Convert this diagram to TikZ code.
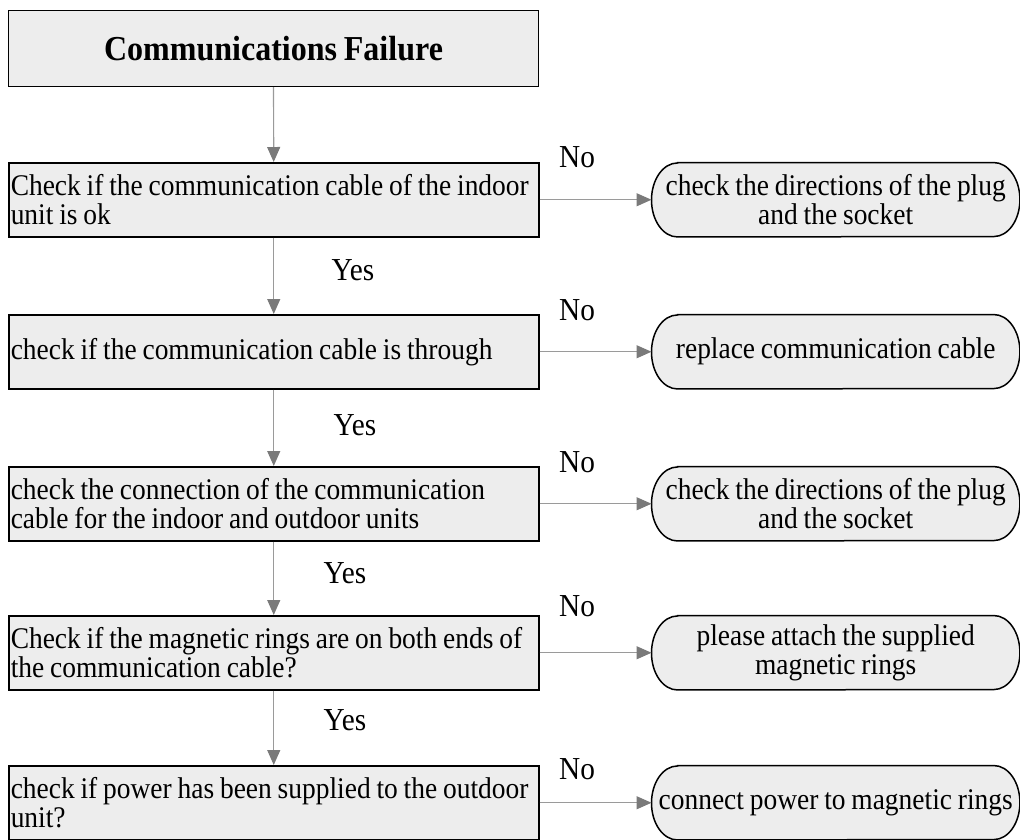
\documentclass[tikz,border=0pt]{standalone}
\usepackage{fontspec}
\setmainfont{Liberation Serif}[FakeStretch=0.915, WordSpace=0.85]
\usetikzlibrary{arrows.meta, backgrounds}

\definecolor{boxgray}{HTML}{EDEDED}
\definecolor{flowgray}{HTML}{9A9A9A}
\definecolor{tipgray}{HTML}{7A7A7A}

\tikzset{
    titlebox/.style={draw, line width=1pt, fill=boxgray, minimum width=530pt, minimum height=76pt, font=\fontsize{35}{38}\selectfont\bfseries},
    chkbox/.style={draw, line width=1.5pt, fill=boxgray, anchor=north west, text width=526pt, inner xsep=2pt, minimum height=74pt, align=flush left, font=\fontsize{30}{29}\selectfont},
    fixbox/.style={anchor=west, minimum width=368pt, minimum height=74pt, align=center, font=\fontsize{30}{29}\selectfont},
    fixline/.style={line width=1.5pt, fill=boxgray},
    flow/.style={draw=flowgray, line width=1.2pt, -{Triangle[length=15pt, width=13pt, color=tipgray, fill=tipgray]}},
    lbl/.style={font=\fontsize{32}{34}\selectfont}
}

\begin{document}
\begin{tikzpicture}[x=1pt, y=-1pt]
    % Fix the page to the picture size
    \useasboundingbox (0,0) rectangle (1020,839);
    \clip (0,0) rectangle (1020,839);

    % Draw the title
    \node[titlebox, anchor=north west] (title) at (8,10) {Communications Failure};

    % Draw the checks
    \node[chkbox] (chk1) at (8,162) {Check if the communication cable of the indoor\\unit is ok};
    \node[chkbox] (chk2) at (8,314) {check if the communication cable is through};
    \node[chkbox] (chk3) at (8,466) {check the connection of the communication\\cable for the indoor and outdoor units};
    \node[chkbox] (chk4) at (8,615) {Check if the magnetic rings are on both ends of\\the communication cable?};
    \node[chkbox] (chk5) at (8,765) {check if power has been supplied to the outdoor\\unit?};

    % Draw the fixes
    \node[fixbox] (fix1) at ([xshift=112pt]chk1.east) {check the directions of the plug\\and the socket};
    \node[fixbox] (fix2) at ([xshift=112pt]chk2.east) {replace communication cable};
    \node[fixbox] (fix3) at ([xshift=112pt]chk3.east) {check the directions of the plug\\and the socket};
    \node[fixbox] (fix4) at ([xshift=112pt]chk4.east) {please attach the supplied\\magnetic rings};
    \node[fixbox] (fix5) at ([xshift=112pt]chk5.east) {connect power to magnetic rings};

    % Outline the fixes behind their text
    \begin{scope}[on background layer]
        \foreach \i in {1,...,5}
            \draw[fixline] ([xshift=26pt]fix\i.north west) -- ([xshift=-26pt]fix\i.north east)
                arc[start angle=90, end angle=-90, x radius=26pt, y radius=37pt]
                -- ([xshift=26pt]fix\i.south west)
                arc[start angle=270, end angle=90, x radius=26pt, y radius=37pt] -- cycle;
    \end{scope}

    % Draw the arrows
    \foreach \a/\b in {title/chk1, chk1/chk2, chk2/chk3, chk3/chk4, chk4/chk5}
        \draw[flow] (\a) -- (\b);
    \foreach \i in {1,...,5}
        \draw[flow] (chk\i) -- (fix\i);

    % Add the answers
    \foreach \i/\y in {1/157, 2/310, 3/462, 4/606, 5/769}
        \node[lbl] (no\i) at (577,\y) {No};
    \foreach \i/\x/\y in {1/353/270, 2/355/425, 3/345/573, 4/345/720}
        \node[lbl] (yes\i) at (\x,\y) {Yes};
\end{tikzpicture}
\end{document}
